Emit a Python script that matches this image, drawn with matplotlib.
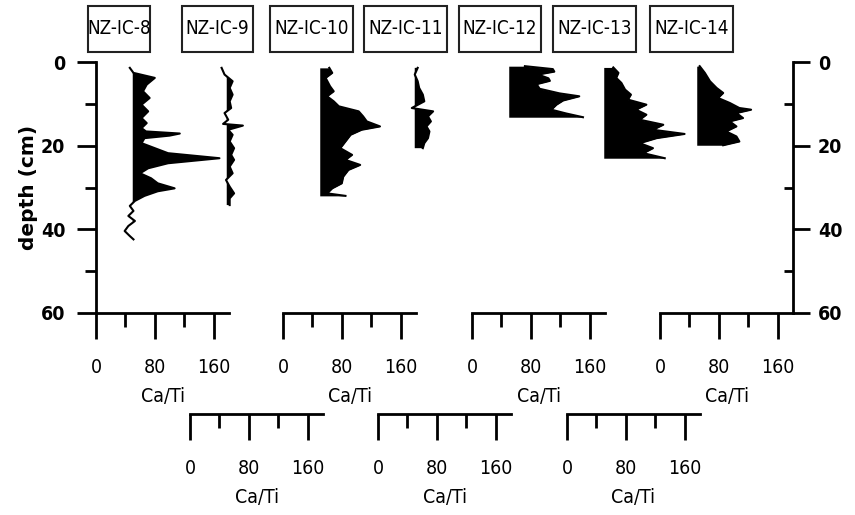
import numpy as np
import matplotlib
matplotlib.use('Agg')
import matplotlib.pyplot as plt
from matplotlib.patches import Rectangle

plt.rcParams['font.family'] = ['DejaVu Sans']
plt.rcParams['font.stretch'] = 'condensed'

# Ca/Ti profiles, depth in cm
ic8_depth = [1.4, 2.6, 3.8, 5.4, 7.0, 8.6, 10.2, 11.8, 13.4, 14.6, 15.8, 16.6, 17.1, 17.6, 18.2,
             19.4, 20.6, 21.8, 23.0, 24.2, 25.4, 26.6, 27.8, 29.0, 30.2, 30.9, 32.0, 33.2,
             34.4, 35.6, 36.8, 38.0, 39.2, 40.4, 41.6, 42.4]
ic8_cati = [46, 51, 80, 69, 64, 73, 62, 71, 62, 69, 62, 68, 114, 100, 66,
            62, 80, 98, 168, 98, 71, 60, 75, 84, 107, 84, 66, 53,
            46, 51, 44, 53, 44, 39, 46, 51]

ic9_depth = [1.4, 3.0, 4.6, 6.2, 7.8, 9.4, 11.0, 12.2, 13.8, 14.8, 15.2, 16.2, 17.4, 19.0,
             20.6, 22.2, 23.4, 25.0, 26.6, 28.2, 29.8, 31.4, 32.6, 34.2]
ic9_cati = [43, 47, 58, 54, 58, 54, 56, 47, 52, 45, 72, 52, 58, 54,
            60, 56, 60, 54, 58, 49, 54, 60, 54, 54]

ic10_depth = [1.4, 2.6, 3.8, 5.8, 7.0, 8.2, 9.4, 10.6, 11.8, 13.0, 14.2, 15.4, 16.2, 17.4,
              19.0, 20.6, 22.2, 23.4, 24.6, 25.8, 27.4, 29.0, 30.2, 31.4, 32.0]
ic10_cati = [63, 67, 58, 64, 69, 60, 69, 76, 103, 109, 114, 132, 107, 92,
             85, 78, 94, 85, 105, 89, 82, 80, 67, 60, 85]

ic11_depth = [1.4, 3.0, 4.6, 6.2, 7.8, 9.4, 11.0, 11.8, 13.0, 14.2, 15.4, 16.6, 18.2, 19.4, 20.6]
ic11_cati = [54, 50, 54, 56, 61, 63, 46, 75, 68, 72, 66, 70, 68, 63, 61]

ic12_depth = [1.0, 1.7, 2.3, 3.0, 3.9, 4.5, 5.3, 6.4, 7.5, 8.2, 9.2, 10.2, 11.4, 12.3, 13.2]
ic12_cati = [72, 110, 112, 90, 104, 106, 88, 92, 119, 146, 124, 115, 108, 128, 151]

ic13_depth = [1.3, 2.6, 3.8, 5.0, 6.6, 7.8, 9.0, 10.2, 11.4, 12.6, 13.8, 15.0, 16.2, 17.2,
              18.2, 19.4, 20.6, 21.8, 23.0]
ic13_cati = [63, 70, 67, 74, 79, 87, 83, 108, 94, 108, 99, 131, 117, 160,
             122, 99, 117, 104, 133]

ic14_depth = [1.0, 2.6, 4.6, 6.2, 7.4, 8.6, 9.8, 11.0, 11.4, 12.2, 13.4, 14.2, 15.4, 16.6,
              17.8, 19.0, 19.9]
ic14_cati = [54, 61, 68, 77, 86, 79, 95, 108, 124, 104, 113, 95, 104, 90,
             104, 108, 86]

core_names = ['NZ-IC-8', 'NZ-IC-9', 'NZ-IC-10', 'NZ-IC-11', 'NZ-IC-12', 'NZ-IC-13', 'NZ-IC-14']
core_depths = [ic8_depth, ic9_depth, ic10_depth, ic11_depth, ic12_depth, ic13_depth, ic14_depth]
core_cati = [ic8_cati, ic9_cati, ic10_cati, ic11_cati, ic12_cati, ic13_cati, ic14_cati]
fill_base = 50

# layout in pixels
W, H = 855, 515
top_px = 62
axis_px = [96, 190, 283, 378, 472, 567, 660]
bottom_px = [313, 414, 313, 414, 313, 414, 313]
panel_w = 133
box_cx = [119, 217.5, 311.5, 405.5, 500, 594.5, 691.5]
box_w = [62, 71, 83, 83, 82, 83, 83]
px_per_cm = (313 - top_px) / 60


def px_axes(fig, x0, y0, x1, y1):
    return fig.add_axes([x0 / W, 1 - y1 / H, (x1 - x0) / W, (y1 - y0) / H])


fig = plt.figure(figsize=(W / 100, H / 100), dpi=100)

# depth axes (left and right)
ax = px_axes(fig, 96, top_px, 793, 313)
ax.patch.set_visible(False)
ax.set_ylim(60, 0)
ax.set_xticks([])
for s in ['top', 'bottom', 'right']:
    ax.spines[s].set_visible(False)
ax.spines['left'].set_linewidth(2)
ax.set_yticks([0, 20, 40, 60])
ax.set_yticks([10, 30, 50], minor=True)
ax.tick_params(axis='y', which='major', length=14, width=2, pad=8, labelsize=14)
ax.tick_params(axis='y', which='minor', length=8, width=2)
for t in ax.get_yticklabels():
    t.set_fontweight('bold')
ax.set_ylabel('depth (cm)', fontstretch='normal', fontsize=14.5, fontweight='bold', labelpad=2)

axr = ax.twinx()
axr.set_ylim(60, 0)
axr.patch.set_visible(False)
for s in ['top', 'bottom', 'left']:
    axr.spines[s].set_visible(False)
axr.spines['right'].set_linewidth(2)
axr.set_yticks([0, 20, 40, 60])
axr.set_yticks([10, 30, 50], minor=True)
axr.tick_params(axis='y', which='major', length=12, width=2, pad=6, labelsize=14, direction='out')
axr.tick_params(axis='y', which='minor', length=6.5, width=2, direction='in')
for t in axr.get_yticklabels():
    t.set_fontweight('bold')

# one panel per core
for i in range(len(core_names)):
    x0 = axis_px[i]
    y1 = bottom_px[i]
    pa = px_axes(fig, x0, top_px, x0 + panel_w, y1)
    pa.patch.set_visible(False)
    pa.set_xlim(0, 181)
    pa.set_ylim((y1 - top_px) / px_per_cm, 0)
    for s in ['top', 'left', 'right']:
        pa.spines[s].set_visible(False)
    pa.spines['bottom'].set_linewidth(2)
    pa.set_yticks([])
    pa.set_xticks([0, 80, 160])
    pa.set_xticks([40, 120], minor=True)
    pa.tick_params(axis='x', which='major', length=19, width=2, pad=13.5, labelsize=14)
    pa.tick_params(axis='x', which='minor', length=10, width=2)
    pa.set_xlabel('Ca/Ti', fontsize=14, labelpad=7)

    d = np.array(core_depths[i])
    v = np.array(core_cati[i])
    pa.fill_betweenx(d, fill_base, v, where=v >= fill_base, interpolate=True,
                     color='black', lw=0)
    pa.plot(v, d, color='black', lw=1.5)

    # core name box
    fig.add_artist(Rectangle(((box_cx[i] - box_w[i] / 2) / W, 1 - 52 / H), box_w[i] / W, 46 / H,
                             transform=fig.transFigure, fill=False, lw=1.5, ec='#222222'))
    fig.text(box_cx[i] / W, 1 - 29 / H, core_names[i], ha='center', va='center', fontsize=13.5)

fig.savefig('out.png', dpi=100)
